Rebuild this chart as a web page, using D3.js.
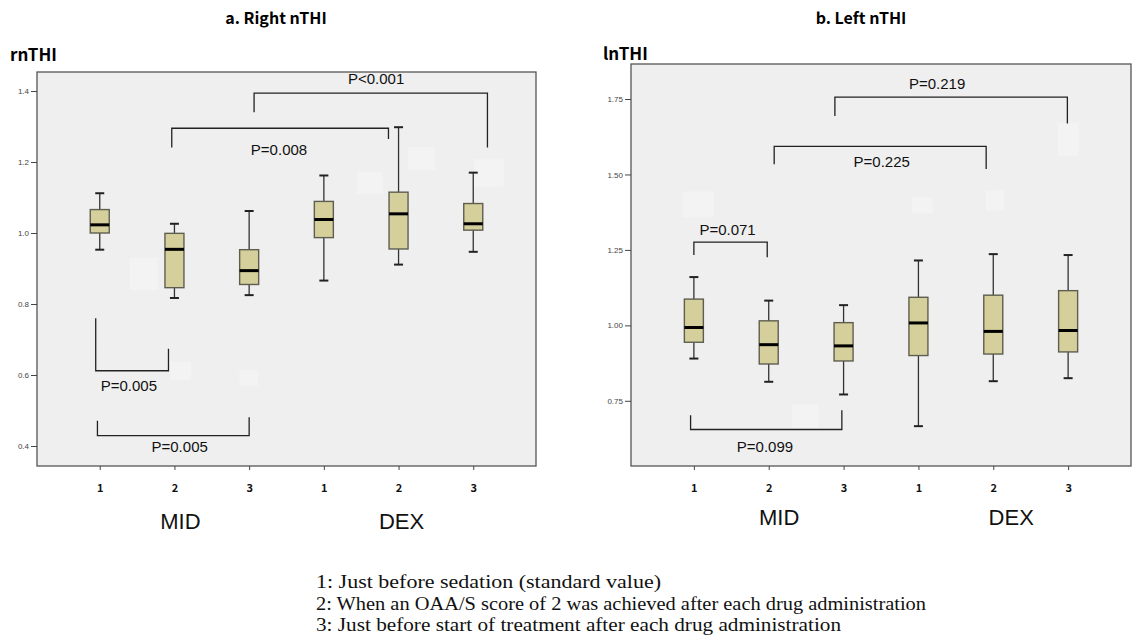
<!DOCTYPE html>
<html>
<head>
<meta charset="utf-8">
<script src="https://cdn.jsdelivr.net/npm/d3@7/dist/d3.min.js"></script>
<style>
  html, body { margin: 0; padding: 0; background: #fff; }
</style>
</head>
<body>
<svg id="chart"></svg>
<script>
// categories on the x axis (drug x time point)
const categories = ["MID1", "MID2", "MID3", "DEX1", "DEX2", "DEX3"];
const tickLabels = ["1", "2", "3", "1", "2", "3"];
const groupLabels = ["MID", "DEX"];

// five-number summaries [min, q1, median, q3, max]
const rightStats = [
  [0.953, 1.000, 1.023, 1.066, 1.112],
  [0.817, 0.846, 0.954, 0.999, 1.026],
  [0.825, 0.855, 0.894, 0.953, 1.062],
  [0.866, 0.987, 1.038, 1.089, 1.162],
  [0.911, 0.955, 1.054, 1.115, 1.298],
  [0.947, 1.008, 1.026, 1.083, 1.170]
];
const leftStats = [
  [0.890, 0.944, 0.993, 1.087, 1.160],
  [0.813, 0.872, 0.936, 1.015, 1.082],
  [0.771, 0.882, 0.932, 1.009, 1.067],
  [0.666, 0.900, 1.008, 1.093, 1.215],
  [0.815, 0.905, 0.980, 1.100, 1.236],
  [0.825, 0.912, 0.983, 1.115, 1.233]
];

const rightTicks = [0.4, 0.6, 0.8, 1.0, 1.2, 1.4];
const leftTicks = [0.75, 1.0, 1.25, 1.5, 1.75];

// significance brackets: x in category units, y in data units
const rightBrackets = [
  { label: "P<0.001", x1: 2.066, x2: 5.19, y: 1.394, end1: 1.340, end2: 1.241, lx: 3.70, ly: 1.43 },
  { label: "P=0.008", x1: 0.964, x2: 3.865, y: 1.295, end1: 1.241, end2: 1.265, lx: 2.40, ly: 1.232 },
  { label: "P=0.005", x1: -0.054, x2: 0.92, y: 0.612, end1: 0.760, end2: 0.674, lx: 0.39, ly: 0.565 },
  { label: "P=0.005", x1: -0.031, x2: 2.0, y: 0.429, end1: 0.471, end2: 0.481, lx: 1.07, ly: 0.394 }
];
const leftBrackets = [
  { label: "P=0.219", x1: 1.884, x2: 4.99, y: 1.756, end1: 1.694, end2: 1.669, lx: 3.25, ly: 1.797 },
  { label: "P=0.225", x1: 1.073, x2: 3.905, y: 1.593, end1: 1.534, end2: 1.518, lx: 2.51, ly: 1.537 },
  { label: "P=0.071", x1: 0.0, x2: 0.98, y: 1.276, end1: 1.233, end2: 1.226, lx: 0.45, ly: 1.312 },
  { label: "P=0.099", x1: -0.044, x2: 1.977, y: 0.655, end1: 0.702, end2: 0.719, lx: 0.95, ly: 0.594 }
];

// faint erased patches left on the original figure [x1, x2, vTop, vBottom]
const rightPatches = [
  [0.40, 0.78, 0.930, 0.839], [0.94, 1.22, 0.637, 0.586], [1.87, 2.12, 0.614, 0.569],
  [3.44, 3.79, 1.172, 1.110], [4.13, 4.49, 1.242, 1.177], [5.01, 5.41, 1.208, 1.130]
];
const leftPatches = [
  [-0.15, 0.27, 1.444, 1.358], [1.31, 1.67, 0.737, 0.660], [2.91, 3.19, 1.424, 1.371],
  [3.90, 4.14, 1.447, 1.381], [4.86, 5.14, 1.670, 1.561]
];

const legendLines = [
  "1: Just before sedation (standard value)",
  "2: When an OAA/S score of 2 was achieved after each drug administration",
  "3: Just before start of treatment after each drug administration"
];
const legendWidths = [345, 610, 525];

const width = 1136, height = 641;
const svg = d3.select("#chart").attr("width", width).attr("height", height);

function drawPanel({ title, titleX, yTitle, yTitleX, yTitleY, frame, domain, ticks, fmt, stats, brackets, patches, groupPos, groupY }) {
  const g = svg.append("g");

  const x = d3.scalePoint().domain(categories).range([frame.left, frame.right]).padding(0.84);
  const xAt = i => x(categories[0]) + i * x.step();
  const y = d3.scaleLinear().domain(domain).range([frame.bottom, frame.top]);

  // titles
  g.append("text")
    .attr("x", titleX).attr("y", 24)
    .attr("text-anchor", "middle")
    .attr("font-family", "'Noto Sans CJK JP', 'Noto Sans', sans-serif")
    .attr("font-weight", "bold")
    .attr("font-size", 16)
    .text(title);
  g.append("text")
    .attr("x", yTitleX).attr("y", yTitleY)
    .attr("font-family", "'Noto Sans CJK JP', 'Noto Sans', sans-serif")
    .attr("font-weight", "bold")
    .attr("font-size", 17)
    .text(yTitle);

  // plot background
  g.append("rect")
    .attr("x", frame.left).attr("y", frame.top)
    .attr("width", frame.right - frame.left)
    .attr("height", frame.bottom - frame.top)
    .attr("fill", "#efefef")
    .attr("stroke", "#555")
    .attr("stroke-width", 1.3);

  g.selectAll("rect.patch")
    .data(patches)
    .join("rect")
    .attr("class", "patch")
    .attr("x", d => xAt(d[0]))
    .attr("width", d => xAt(d[1]) - xAt(d[0]))
    .attr("y", d => y(d[2]))
    .attr("height", d => y(d[3]) - y(d[2]))
    .attr("fill", "#f3f3f3");

  // y axis
  const yAxis = g.append("g")
    .attr("transform", `translate(${frame.left},0)`)
    .call(d3.axisLeft(y).tickValues(ticks).tickFormat(d3.format(fmt)).tickSize(6).tickPadding(2));
  yAxis.select(".domain").remove();
  yAxis.selectAll("line").attr("stroke", "#444");
  yAxis.selectAll("text").attr("font-family", "'Liberation Sans', Arial, sans-serif").attr("font-size", 8).attr("fill", "#444");

  // x axis
  const xAxis = g.append("g")
    .attr("transform", `translate(0,${frame.bottom})`)
    .call(d3.axisBottom(x).tickFormat((d, i) => tickLabels[i]).tickSize(4).tickPadding(14));
  xAxis.select(".domain").remove();
  xAxis.selectAll("line").attr("stroke", "#444");
  xAxis.selectAll("text")
    .attr("font-family", "'Noto Sans CJK JP', sans-serif")
    .attr("font-weight", "bold")
    .attr("font-size", 11)
    .attr("fill", "#111");

  g.selectAll("text.group")
    .data(groupLabels)
    .join("text")
    .attr("class", "group")
    .attr("x", (d, i) => xAt(groupPos[i]))
    .attr("y", groupY)
    .attr("text-anchor", "middle")
    .attr("font-family", "'Liberation Sans', Arial, sans-serif")
    .attr("font-size", 22)
    .attr("fill", "#111")
    .text(d => d);

  // boxes
  const boxW = 19, capW = 9;
  const box = g.selectAll("g.box")
    .data(stats)
    .join("g")
    .attr("class", "box")
    .attr("transform", (d, i) => `translate(${x(categories[i])},0)`);

  box.append("line")
    .attr("x1", 0).attr("x2", 0)
    .attr("y1", d => y(d[4])).attr("y2", d => y(d[0]))
    .attr("stroke", "#333").attr("stroke-width", 1.3);
  box.append("line")
    .attr("x1", -capW / 2).attr("x2", capW / 2)
    .attr("y1", d => y(d[4])).attr("y2", d => y(d[4]))
    .attr("stroke", "#222").attr("stroke-width", 2);
  box.append("line")
    .attr("x1", -capW / 2).attr("x2", capW / 2)
    .attr("y1", d => y(d[0])).attr("y2", d => y(d[0]))
    .attr("stroke", "#222").attr("stroke-width", 2);
  box.append("rect")
    .attr("x", -boxW / 2).attr("width", boxW)
    .attr("y", d => y(d[3]))
    .attr("height", d => y(d[1]) - y(d[3]))
    .attr("fill", "#d5d09b")
    .attr("stroke", "#5e5e50")
    .attr("stroke-width", 1.4);
  box.append("line")
    .attr("x1", -boxW / 2).attr("x2", boxW / 2)
    .attr("y1", d => y(d[2])).attr("y2", d => y(d[2]))
    .attr("stroke", "#000").attr("stroke-width", 3);

  // brackets
  g.selectAll("path.bracket")
    .data(brackets)
    .join("path")
    .attr("class", "bracket")
    .attr("fill", "none")
    .attr("stroke", "#222")
    .attr("stroke-width", 1.3)
    .attr("d", d => `M${xAt(d.x1)},${y(d.end1)}V${y(d.y)}H${xAt(d.x2)}V${y(d.end2)}`);

  g.selectAll("text.plabel")
    .data(brackets)
    .join("text")
    .attr("class", "plabel")
    .attr("x", d => xAt(d.lx))
    .attr("y", d => y(d.ly))
    .attr("text-anchor", "middle")
    .attr("dominant-baseline", "middle")
    .attr("font-family", "'Liberation Sans', Arial, sans-serif")
    .attr("font-size", 15)
    .attr("fill", "#111")
    .text(d => d.label);
}

drawPanel({
  title: "a. Right nTHI", titleX: 276,
  yTitle: "rnTHI", yTitleX: 10, yTitleY: 61,
  frame: { left: 37, right: 536, top: 72, bottom: 466 },
  domain: [0.3437, 1.4535], ticks: rightTicks, fmt: ".1f",
  stats: rightStats, brackets: rightBrackets, patches: rightPatches,
  groupPos: [1.08, 4.04], groupY: 529
});

drawPanel({
  title: "b. Left nTHI", titleX: 861,
  yTitle: "lnTHI", yTitleX: 603, yTitleY: 60,
  frame: { left: 631, right: 1131, top: 64, bottom: 466 },
  domain: [0.534, 1.866], ticks: leftTicks, fmt: ".2f",
  stats: leftStats, brackets: leftBrackets, patches: leftPatches,
  groupPos: [1.14, 4.24], groupY: 525
});

// footnote legend
svg.selectAll("text.legend")
  .data(legendLines)
  .join("text")
  .attr("class", "legend")
  .attr("x", 316)
  .attr("y", (d, i) => 588 + i * 21.7)
  .attr("font-family", "'Liberation Serif', 'Times New Roman', serif")
  .attr("font-size", 18)
  .attr("fill", "#111")
  .attr("textLength", (d, i) => legendWidths[i])
  .attr("lengthAdjust", "spacingAndGlyphs")
  .text(d => d);
</script>
</body>
</html>
